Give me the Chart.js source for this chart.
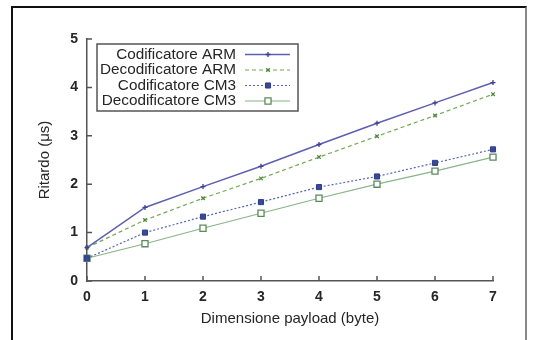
<!DOCTYPE html>
<html><head><meta charset="utf-8">
<script src="https://cdn.jsdelivr.net/npm/chart.js@4.4.1/dist/chart.umd.min.js"></script>
<style>
html,body{margin:0;padding:0;background:#fff;}
#wrap{position:relative;width:536px;height:340px;overflow:hidden;background:#fff;}
#frame{position:absolute;left:11px;top:6px;width:512px;height:400px;border-top:2px solid #111;border-left:2px solid #111;border-right:2px solid #888;}
canvas{position:absolute;left:0;top:0;}
</style></head><body>
<div id="wrap"><div id="frame"></div><canvas id="c" width="536" height="340"></canvas></div>
<script>
const payloadBytes = [0, 1, 2, 3, 4, 5, 6, 7];
const codArm = [0.69, 1.52, 1.95, 2.37, 2.82, 3.26, 3.68, 4.10];
const decArm = [0.69, 1.26, 1.71, 2.12, 2.56, 2.99, 3.42, 3.86];
const codCm3 = [0.47, 1.00, 1.33, 1.63, 1.94, 2.16, 2.44, 2.72];
const decCm3 = [0.47, 0.77, 1.09, 1.40, 1.71, 2.00, 2.27, 2.56];
const seriesNames = ['Codificatore ARM', 'Decodificatore ARM', 'Codificatore CM3', 'Decodificatore CM3'];
const yMin = 0, yMax = 5;
const xTitle = 'Dimensione payload (byte)';
const yTitle = 'Ritardo (\u03bcs)';

const FONT = '"Liberation Sans", Arial, Helvetica, sans-serif';
const TXT = '#262626';

const inwardTicks = {
  id: 'inwardTicks',
  afterDraw(chart) {
    const ctx = chart.ctx, a = chart.chartArea;
    const xs = chart.scales.x, ys = chart.scales.y;
    ctx.save();
    ctx.strokeStyle = '#555';
    ctx.lineWidth = 1.5;
    ctx.beginPath();
    xs.ticks.forEach((t, i) => {
      const px = xs.getPixelForTick(i);
      ctx.moveTo(px, a.bottom); ctx.lineTo(px, a.bottom - 5);
    });
    ys.ticks.forEach((t, i) => {
      const py = ys.getPixelForTick(i);
      ctx.moveTo(a.left, py); ctx.lineTo(a.left + 5, py);
    });
    ctx.stroke();
    ctx.restore();
  }
};

const boxLegend = {
  id: 'boxLegend',
  afterDraw(chart) {
    const ctx = chart.ctx, a = chart.chartArea;
    const x0 = a.left + 10, y0 = a.top + 5, w = 201, h = 67;
    ctx.save();
    ctx.fillStyle = '#fff';
    ctx.fillRect(x0, y0, w, h);
    ctx.strokeStyle = '#555';
    ctx.lineWidth = 1.5;
    ctx.strokeRect(x0, y0, w, h);
    ctx.font = '15.3px ' + FONT;
    ctx.textAlign = 'right';
    ctx.textBaseline = 'middle';
    chart.data.datasets.forEach((ds, i) => {
      const y = y0 + 10.5 + i * 15.5;
      ctx.fillStyle = TXT;
      ctx.fillText(ds.label, x0 + 139, y);
      ctx.strokeStyle = ds.borderColor;
      ctx.lineWidth = ds.borderWidth;
      ctx.setLineDash(ds.borderDash || []);
      ctx.beginPath(); ctx.moveTo(x0 + 148, y); ctx.lineTo(x0 + 193, y); ctx.stroke();
      ctx.setLineDash([]);
      ctx.fillStyle = ds.pointBackgroundColor;
      ctx.strokeStyle = ds.pointBorderColor;
      ctx.lineWidth = ds.pointBorderWidth;
      if (Chart.helpers && Chart.helpers.drawPoint) {
        Chart.helpers.drawPoint(ctx, {pointStyle: ds.pointStyle, radius: ds.pointRadius, borderWidth: ds.pointBorderWidth, rotation: 0}, x0 + 171, y);
      }
    });
    ctx.restore();
  }
};

new Chart(document.getElementById('c'), {
  type: 'line',
  data: {
    labels: payloadBytes.map(String),
    datasets: [
      {label: seriesNames[0], data: codArm, borderColor: '#5d5fb0', borderWidth: 1.5, borderDash: [],
       pointStyle: 'cross', pointRadius: 2.5, pointBorderWidth: 1.3, pointBorderColor: '#3c3f8c', pointBackgroundColor: '#3c3f8c'},
      {label: seriesNames[1], data: decArm, borderColor: '#70a855', borderWidth: 1.2, borderDash: [4, 3],
       pointStyle: 'crossRot', pointRadius: 2.5, pointBorderWidth: 1.3, pointBorderColor: '#4f8a3a', pointBackgroundColor: '#4f8a3a'},
      {label: seriesNames[2], data: codCm3, borderColor: '#5866b8', borderWidth: 1.2, borderDash: [2, 2],
       pointStyle: 'rect', pointRadius: 3.6, pointBorderWidth: 1, pointBorderColor: '#2f3c8e', pointBackgroundColor: '#3a4898'},
      {label: seriesNames[3], data: decCm3, borderColor: '#8ab48a', borderWidth: 1.2, borderDash: [],
       pointStyle: 'rect', pointRadius: 4.3, pointBorderWidth: 1.3, pointBorderColor: '#5a8a5a', pointBackgroundColor: '#ffffff'}
    ]
  },
  options: {
    responsive: false,
    animation: false,
    devicePixelRatio: 1,
    layout: {padding: {left: 0, right: 43, top: 39, bottom: 0}},
    plugins: {legend: {display: false}, tooltip: {enabled: false}},
    elements: {line: {tension: 0}},
    scales: {
      x: {
        type: 'category',
        offset: false,
        grid: {display: false, drawTicks: false},
        border: {display: true, color: '#555', width: 1.5},
        ticks: {color: TXT, font: {family: FONT, size: 14, weight: 'bold'}, padding: 8, maxRotation: 0},
        title: {display: true, text: xTitle, color: TXT, font: {family: FONT, size: 15}, padding: {top: 0, bottom: 12}},
        afterFit(s) { s.height = 59; }
      },
      y: {
        min: yMin, max: yMax,
        grid: {display: false, drawTicks: false},
        border: {display: true, color: '#555', width: 1.5},
        ticks: {stepSize: 1, color: TXT, font: {family: FONT, size: 14, weight: 'bold'}, padding: 9},
        title: {display: true, text: yTitle, color: TXT, font: {family: FONT, size: 15}, padding: {top: 36, bottom: 0}},
        afterFit(s) { s.width = 87; }
      }
    }
  },
  plugins: [inwardTicks, boxLegend]
});
</script>
</body></html>
